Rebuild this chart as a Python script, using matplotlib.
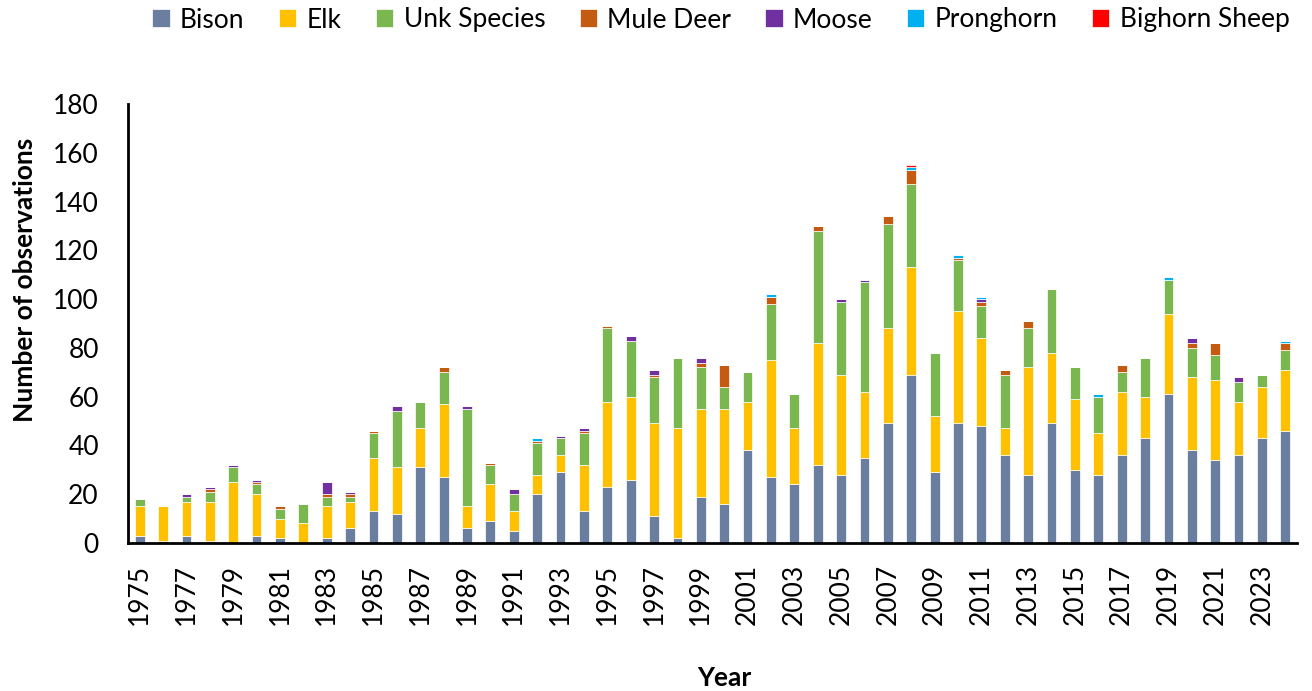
import matplotlib
matplotlib.use("Agg")
import matplotlib.pyplot as plt
import numpy as np

years = list(range(1975, 2025))
bison = [3, 1, 3, 1, 0, 3, 2, 0, 2, 6,
         13, 12, 31, 27, 6, 9, 5, 20, 29, 13,
         23, 26, 11, 2, 19, 16, 38, 27, 24, 32,
         28, 35, 49, 69, 29, 49, 48, 36, 28, 49,
         30, 28, 36, 43, 61, 38, 34, 36, 43, 46]
elk = [12, 14, 14, 16, 25, 17, 8, 8, 13, 11,
       22, 19, 16, 30, 9, 15, 8, 8, 7, 19,
       35, 34, 38, 45, 36, 39, 20, 48, 23, 50,
       41, 27, 39, 44, 23, 46, 36, 11, 44, 29,
       29, 17, 26, 17, 33, 30, 33, 22, 21, 25]
unk = [3, 0, 2, 4, 6, 4, 4, 8, 4, 2,
       10, 23, 11, 13, 40, 8, 7, 13, 7, 13,
       30, 23, 19, 29, 17, 9, 12, 23, 14, 46,
       30, 45, 43, 34, 26, 21, 13, 22, 16, 26,
       13, 15, 8, 16, 14, 12, 10, 8, 5, 8]
mule = [0, 0, 0, 1, 0, 1, 1, 0, 1, 1,
        1, 0, 0, 2, 0, 1, 0, 1, 0, 1,
        1, 0, 1, 0, 2, 9, 0, 3, 0, 2,
        0, 0, 3, 6, 0, 1, 2, 2, 3, 0,
        0, 0, 3, 0, 0, 2, 5, 0, 0, 3]
moose = [0, 0, 1, 1, 1, 1, 0, 0, 5, 1,
         0, 2, 0, 0, 1, 0, 2, 0, 1, 1,
         0, 2, 2, 0, 2, 0, 0, 0, 0, 0,
         1, 1, 0, 0, 0, 0, 1, 0, 0, 0,
         0, 0, 0, 0, 0, 2, 0, 2, 0, 0]
pronghorn = [0, 0, 0, 0, 0, 0, 0, 0, 0, 0,
             0, 0, 0, 0, 0, 0, 0, 1, 0, 0,
             0, 0, 0, 0, 0, 0, 0, 1, 0, 0,
             0, 0, 0, 1, 0, 1, 1, 0, 0, 0,
             0, 1, 0, 0, 1, 0, 0, 0, 0, 1]
sheep = [0] * 33 + [1] + [0] * 16

series_names = ["Bison", "Elk", "Unk Species", "Mule Deer", "Moose", "Pronghorn", "Bighorn Sheep"]
series_vals = [bison, elk, unk, mule, moose, pronghorn, sheep]
colors = ["#6A7F9F", "#FFC000", "#7AB74F", "#C55A11", "#7030A0", "#00B0F0", "#FF0000"]

plt.rcParams['font.family'] = ['Lato', 'DejaVu Sans']

fig = plt.figure(figsize=(13.12, 6.91), dpi=100)
ax = fig.add_axes([128 / 1312, 1 - 543 / 691, (1297 - 128) / 1312, (543 - 104) / 691])

x = np.arange(len(years))
bottom = np.zeros(len(years))
handles = []
for name, vals, c in zip(series_names, series_vals, colors):
    v = np.array(vals, dtype=float)
    b = ax.bar(x, v, bottom=bottom, width=0.42, color=c, edgecolor="white",
               linewidth=0.5, label=name)
    handles.append(b)
    bottom += v

ax.set_xlim(-0.5, len(years) - 0.5)
ax.set_ylim(0, 180)
ax.set_yticks(np.arange(0, 181, 20))
ax.set_xticks(x[::2])
ax.set_xticklabels([str(y) for y in years[::2]], rotation=90)
ax.tick_params(axis='both', length=0, labelsize=19)
ax.tick_params(axis='y', pad=21)
ax.tick_params(axis='x', pad=15)
for s in ["top", "right"]:
    ax.spines[s].set_visible(False)
for s in ["left", "bottom"]:
    ax.spines[s].set_linewidth(2)
    ax.spines[s].set_color("black")

fig.text(25 / 1312, 1 - 280 / 691, "Number of observations", fontsize=19,
         fontweight="bold", rotation=90, ha="center", va="center")
fig.text(724 / 1312, 1 - 678 / 691, "Year", fontsize=19, fontweight="bold",
         ha="center", va="center")

fig.legend(handles=handles, labels=series_names, loc="center", ncol=7,
           bbox_to_anchor=(721 / 1312, 1 - 20 / 691), frameon=False, fontsize=19,
           handlelength=0.65, handleheight=0.65, handletextpad=0.4, columnspacing=1.3,
           borderpad=0.2)

fig.savefig("out.png", dpi=100)
